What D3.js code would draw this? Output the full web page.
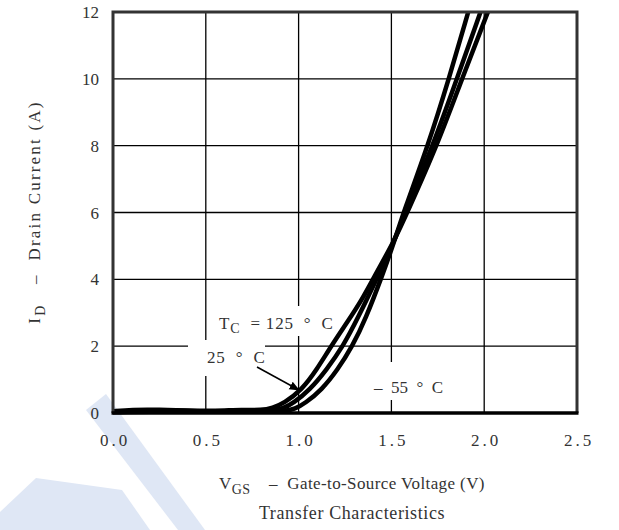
<!DOCTYPE html>
<html><head><meta charset="utf-8">
<script src="https://cdn.jsdelivr.net/npm/d3@7"></script>
<style>
html,body{margin:0;padding:0;background:#fff;}
text{font-family:"Liberation Serif","DejaVu Serif",serif;fill:#333;white-space:pre;}
</style></head>
<body><svg id="c" width="619" height="530"></svg>
<script>
// ---- data ----
const xTicks = [0, 0.5, 1.0, 1.5, 2.0, 2.5];
const yTicks = [0, 2, 4, 6, 8, 10, 12];
const xTickLabels = ["0.0", "0.5", "1.0", "1.5", "2.0", "2.5"];
const yTickLabels = ["0", "2", "4", "6", "8", "10", "12"];
const seriesNames = ["125", "25", "-55"];
const vgs125 = [0, 0.1, 0.25, 0.4, 0.55, 0.7, 0.8, 0.86, 0.92, 1.017, 1.097, 1.175, 1.27, 1.34, 1.40, 1.52, 1.585, 1.746, 1.88, 2.02];
const id125  = [0.05, 0.1, 0.1, 0.07, 0.06, 0.1, 0.08, 0.15, 0.29, 0.69, 1.29, 2.0, 2.78, 3.38, 4.0, 5.2, 6.0, 8.0, 10.0, 12.0];
const vgs25  = [0, 0.1, 0.3, 0.5, 0.7, 0.85, 0.92, 0.97, 1.06, 1.15, 1.24, 1.32, 1.42, 1.52, 1.573, 1.724, 1.853, 1.98];
const id25   = [0.03, 0.06, 0.08, 0.05, 0.05, 0.06, 0.14, 0.29, 0.69, 1.29, 2.0, 2.85, 4.0, 5.2, 6.0, 8.0, 10.0, 12.0];
const vgsM55 = [0, 0.2, 0.4, 0.6, 0.8, 0.93, 0.98, 1.035, 1.124, 1.21, 1.29, 1.36, 1.45, 1.52, 1.565, 1.697, 1.81, 1.914];
const idM55  = [0.02, 0.04, 0.03, 0.05, 0.04, 0.05, 0.12, 0.29, 0.69, 1.29, 2.0, 2.8, 4.1, 5.2, 6.0, 8.0, 10.0, 12.0];

const svg = d3.select("#c");
const L = 113, R = 577, T = 12, B = 413;
const x = d3.scaleLinear().domain([0, 2.5]).range([L, R]);
const y = d3.scaleLinear().domain([0, 12]).range([B, T]);

// watermark (decorative)
svg.append("path").attr("d","M86,410 L106,394 L205,530 L178,530 Z").attr("fill","#dfe7f5");
svg.append("path").attr("d","M0,512 L36,478 L122,490 L150,530 L0,530 Z").attr("fill","#dfe7f5");

// grid
const grid = svg.append("g");
grid.selectAll("line.v").data(xTicks.slice(1, -1)).enter().append("line")
  .attr("x1", d => x(d)).attr("x2", d => x(d)).attr("y1", T).attr("y2", B)
  .attr("stroke", "#000").attr("stroke-width", 1.3);
grid.selectAll("line.h").data(yTicks.slice(1, -1)).enter().append("line")
  .attr("x1", L).attr("x2", R).attr("y1", d => y(d)).attr("y2", d => y(d))
  .attr("stroke", "#000").attr("stroke-width", 1.3);

// label backgrounds hiding grid
svg.append("rect").attr("x", 210).attr("y", 306).attr("width", 130).attr("height", 30).attr("fill", "#fff");
svg.append("rect").attr("x", 188).attr("y", 340).attr("width", 77).attr("height", 36).attr("fill", "#fff");
svg.append("rect").attr("x", 368).attr("y", 362).attr("width", 82).attr("height", 38).attr("fill", "#fff");

// curves
svg.append("clipPath").attr("id", "clip").append("rect")
  .attr("x", L).attr("y", T).attr("width", R - L).attr("height", B - T + 3);
const line = d3.line().x(d => x(d[0])).y(d => y(d[1])).curve(d3.curveBasis);
const series = [d3.zip(vgs125, id125), d3.zip(vgs25, id25), d3.zip(vgsM55, idM55)];
svg.append("g").attr("clip-path", "url(#clip)").selectAll("path").data(series).enter().append("path")
  .attr("d", line).attr("fill", "none").attr("stroke", "#000").attr("stroke-width", 4.5)
  .attr("stroke-linejoin", "round");

// frame
svg.append("path").attr("d", `M${L},${B} L${L},${T} L${R},${T} L${R},${B}`)
  .attr("fill", "none").attr("stroke", "#333").attr("stroke-width", 3);
svg.append("line").attr("x1", L - 1.5).attr("x2", R + 1.5).attr("y1", B).attr("y2", B)
  .attr("stroke", "#000").attr("stroke-width", 3.5);

// tick labels
svg.append("g").selectAll("text").data(xTicks).enter().append("text")
  .attr("x", d => x(d) + 2).attr("y", 446).attr("text-anchor", "middle")
  .attr("font-size", 17).attr("letter-spacing", 3)
  .text((d, i) => xTickLabels[i]);
svg.append("g").selectAll("text").data(yTicks).enter().append("text")
  .attr("x", 99).attr("y", d => y(d) + 6).attr("text-anchor", "end")
  .attr("font-size", 17)
  .text((d, i) => yTickLabels[i]);

// axis titles
const xt = svg.append("text").attr("x", 352).attr("y", 489).attr("text-anchor", "middle")
  .attr("font-size", 17).attr("letter-spacing", 0.4);
xt.append("tspan").text("V");
xt.append("tspan").attr("dy", 5).attr("font-size", 14).text("GS");
xt.append("tspan").attr("dy", -5).text("    \u2013  Gate-to-Source Voltage (V)");

svg.append("text").attr("x", 352).attr("y", 519).attr("text-anchor", "middle").attr("font-size", 18)
  .attr("letter-spacing", 0.6).text("Transfer Characteristics");

const yt = svg.append("text").attr("transform", "translate(40,212) rotate(-90)")
  .attr("text-anchor", "middle").attr("font-size", 17).attr("letter-spacing", 2.2);
yt.append("tspan").text("I");
yt.append("tspan").attr("dy", 5).attr("font-size", 14).text("D");
yt.append("tspan").attr("dy", -5).text("   \u2013  Drain Current (A)");

// annotations
const a1 = svg.append("text").attr("x", 219).attr("y", 329).attr("font-size", 17).attr("letter-spacing", 0.8);
a1.append("tspan").text("T");
a1.append("tspan").attr("dy", 4).attr("font-size", 14).text("C");
a1.append("tspan").attr("dy", -4).text("  = 125  \u00b0  C");
svg.append("text").attr("x", 207).attr("y", 363).attr("font-size", 17).attr("letter-spacing", 0.8).text("25  \u00b0  C");
svg.append("text").attr("x", 374).attr("y", 393).attr("font-size", 17).text("\u2013  55  \u00b0  C");

// arrow
svg.append("defs").append("marker").attr("id", "ah").attr("viewBox", "0 0 10 10")
  .attr("refX", 9).attr("refY", 5).attr("markerWidth", 7).attr("markerHeight", 7)
  .attr("orient", "auto").append("path").attr("d", "M0,1 L10,5 L0,9 Z").attr("fill", "#000");
svg.append("line").attr("x1", 257).attr("y1", 367).attr("x2", 299).attr("y2", 390)
  .attr("stroke", "#000").attr("stroke-width", 1.5).attr("marker-end", "url(#ah)");
</script></body></html>
